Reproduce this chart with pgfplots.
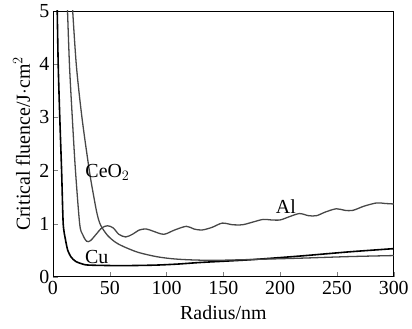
\documentclass[border=0pt]{standalone}
\usepackage{fontspec}
\setmainfont{Liberation Serif}
\usepackage{pgfplots}
\pgfplotsset{compat=1.18}
\usetikzlibrary{calc}
\begin{document}
\begin{tikzpicture}[font=\fontsize{20}{23}\selectfont]
\begin{axis}[
  scale only axis, width=341bp, height=266bp,
  xmin=0, xmax=300, ymin=0, ymax=5,
  xtick={0,50,...,300}, ytick={0,1,...,5},
  tick align=inside, xtick pos=bottom, ytick pos=left,
  major tick length=5bp,
  /pgf/number format/assume math mode=true,
  tick label style={font=\fontsize{20}{23}\selectfont},
  label style={font=\fontsize{20}{23}\selectfont},
  xlabel={Radius/nm}, ylabel={Critical fluence/J$\cdot$cm$^{2}$},
  xlabel style={at={(axis description cs:0.5,-0.135)}, anchor=center},
  ylabel style={at={(axis description cs:-0.092,0.5)}, anchor=center},
  xticklabel style={yshift=-1bp},
  axis line style={line width=0.9pt},
  clip=true,
]
\addplot[black, line width=1.6pt, smooth, tension=0.4] coordinates {
(3.6,5.2)(4.6,4)(6,3)(7.6,2)(9,1)(11,0.7)(13,0.5)(16,0.37)(20,0.29)(26,0.24)(32,0.22)(60,0.21)(90,0.22)(110,0.24)(130,0.27)(173,0.32)(217,0.39)(261,0.47)(300,0.53)};
\addplot[black!72, line width=1.3pt, smooth, tension=0.5] coordinates {
(12.5,5.2)(14.5,4)(17,3)(19.8,2)(23.5,1)(26,0.8)(29.6,0.67)(33,0.68)(38,0.8)(43,0.92)(48,0.96)(53,0.92)(58,0.8)(64,0.75)(70,0.8)(76,0.88)(82,0.9)(88,0.86)(97.6,0.8)(107,0.88)(117.5,0.95)(124,0.9)(131,0.88)(140,0.93)(149,1.01)(158,0.98)(167,0.98)(176,1.03)(185,1.08)(192,1.07)(200,1.07)(208,1.13)(217,1.19)(225,1.15)(232,1.15)(240,1.22)(249.5,1.28)(257,1.25)(264,1.25)(274,1.33)(285,1.39)(292,1.38)(300,1.37)};
\addplot[black!72, line width=1.3pt, smooth, tension=0.5] coordinates {
(16.8,5.2)(20.5,4)(25.5,3)(32,2)(36,1.5)(39,1.17)(42,0.97)(48,0.78)(55,0.65)(62,0.57)(75,0.46)(91,0.38)(105,0.34)(120,0.32)(140,0.31)(164,0.32)(217,0.35)(260,0.38)(300,0.40)};
\node[anchor=center] at (axis cs:48,1.97) {CeO$_2$};
\node[anchor=center] at (axis cs:205,1.33) {Al};
\node[anchor=center] at (axis cs:38.5,0.38) {Cu};
\end{axis}
\path ($(current axis.south west)+(-53bp,-52bp)$) rectangle ($(current axis.north east)+(18bp,11bp)$);
\end{tikzpicture}
\end{document}
